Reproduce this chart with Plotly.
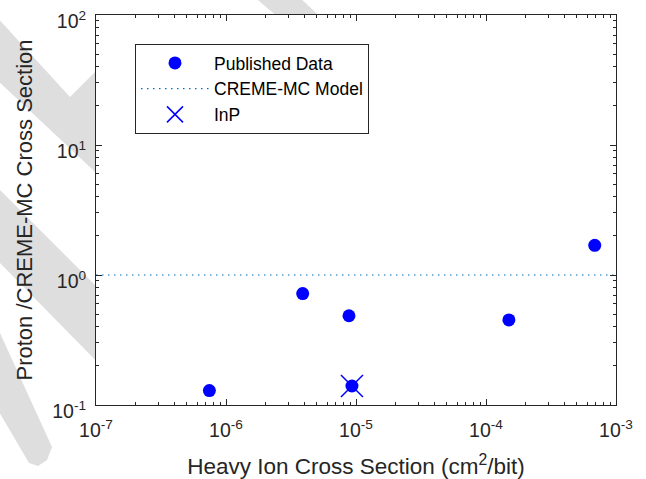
import plotly.graph_objects as go

# ---- data ----
pub_x = [7.45e-7, 3.89e-6, 8.83e-6, 9.31e-6, 1.50e-4, 6.86e-4]
pub_y = [0.129, 0.72, 0.486, 0.140, 0.451, 1.69]
inp_x = [9.31e-6]
inp_y = [0.140]
model_x = [1e-7, 1e-3]
model_y = [1.0, 1.0]

x_tick_vals = [1e-7, 1e-6, 1e-5, 1e-4, 1e-3]
x_tick_text = ["10<sup>-7</sup>", "10<sup>-6</sup>", "10<sup>-5</sup>", "10<sup>-4</sup>", "10<sup>-3</sup>"]
y_tick_vals = [0.1, 1, 10, 100]
y_tick_text = ["10<sup>-1</sup>", "10<sup>0</sup>", "10<sup>1</sup>", "10<sup>2</sup>"]

x_minor = [k * 10.0 ** e for e in range(-7, -3) for k in range(2, 10)]
y_minor = [k * 10.0 ** e for e in range(-1, 2) for k in range(2, 10)]

# ---- layout geometry (pixels) ----
W, H = 646, 479
L, R, T, B = 96, 616, 15, 405
AX = "#262626"
FONT = "Arial, Liberation Sans, sans-serif"


def to_paper(pts):
    out = []
    for i, (x, y) in enumerate(pts):
        xp = (x - L) / (R - L)
        yp = (B - y) / (B - T)
        out.append(("M" if i == 0 else "L") + f"{xp:.4f},{yp:.4f}")
    return " ".join(out) + " Z"


watermark = [
    [(-5, 15), (70, 97), (125, 42), (125, 200), (-5, 78)],
    [(252, -5), (297, -5), (345, 40), (305, 40)],
    [(-5, 185), (115, 305), (115, 380), (-5, 258)],
    [(-5, 322), (52, 447), (47, 460), (38, 466), (29, 463), (-5, 405)],
]
shapes = []
for poly in watermark:
    shapes.append(dict(type="path", xref="paper", yref="paper", path=to_paper(poly),
                       fillcolor="#dedede", line=dict(width=0), layer="below"))
shapes.append(dict(type="rect", xref="paper", yref="paper", x0=0, x1=1, y0=0, y1=1,
                   fillcolor="white", line=dict(width=0), layer="below"))

fig = go.Figure()
fig.add_trace(go.Scatter(x=pub_x, y=pub_y, mode="markers", name="Published Data",
                         marker=dict(symbol="circle", size=13, color="#0000ff", line=dict(width=0))))
fig.add_trace(go.Scatter(x=model_x, y=model_y, mode="lines", name="CREME-MC Model",
                         line=dict(color="#0072BD", width=1.2, dash="1.5px,4.5px")))
fig.add_trace(go.Scatter(x=inp_x, y=inp_y, mode="markers", name="InP",
                         marker=dict(symbol="x-thin", size=22, color="#0000ff",
                                     line=dict(width=1.5, color="#0000ff"))))

axis_common = dict(
    type="log", showgrid=False, zeroline=False, showline=True, linecolor=AX, linewidth=1,
    mirror="ticks", ticks="inside", ticklen=6, tickwidth=1, tickcolor=AX,
    tickfont=dict(family=FONT, size=19.5, color=AX), automargin=False,
    ticklabeloverflow="allow",
)

fig.update_xaxes(
    **axis_common, range=[-7, -3], tickmode="array", tickvals=x_tick_vals, ticktext=x_tick_text,
    minor=dict(ticks="inside", ticklen=3, tickcolor=AX, tickwidth=1, tickmode="array", tickvals=x_minor),
    ticklabelstandoff=8,
    title=dict(text="Heavy Ion Cross Section (cm<sup>2</sup>/bit)",
               font=dict(family=FONT, size=22.5, color=AX), standoff=20),
)
fig.update_yaxes(
    **axis_common, range=[-1, 2], tickmode="array", tickvals=y_tick_vals, ticktext=y_tick_text,
    minor=dict(ticks="inside", ticklen=3, tickcolor=AX, tickwidth=1, tickmode="array", tickvals=y_minor),
    ticklabelstandoff=5, ticklabelshift=6,
    title=dict(text="Proton /CREME-MC Cross Section",
               font=dict(family=FONT, size=22, color=AX), standoff=13),
)

fig.update_layout(
    width=W, height=H, margin=dict(l=L, r=W - R, t=T, b=H - B),
    paper_bgcolor="white", plot_bgcolor="white",
    shapes=shapes,
    showlegend=True,
    legend=dict(x=(135 - L) / (R - L), y=(B - 44) / (B - T), xanchor="left", yanchor="top",
                bgcolor="white", bordercolor=AX, borderwidth=1,
                font=dict(family=FONT, size=17.5, color="#000000"), itemwidth=68),
)

fig.write_html("out.html")
